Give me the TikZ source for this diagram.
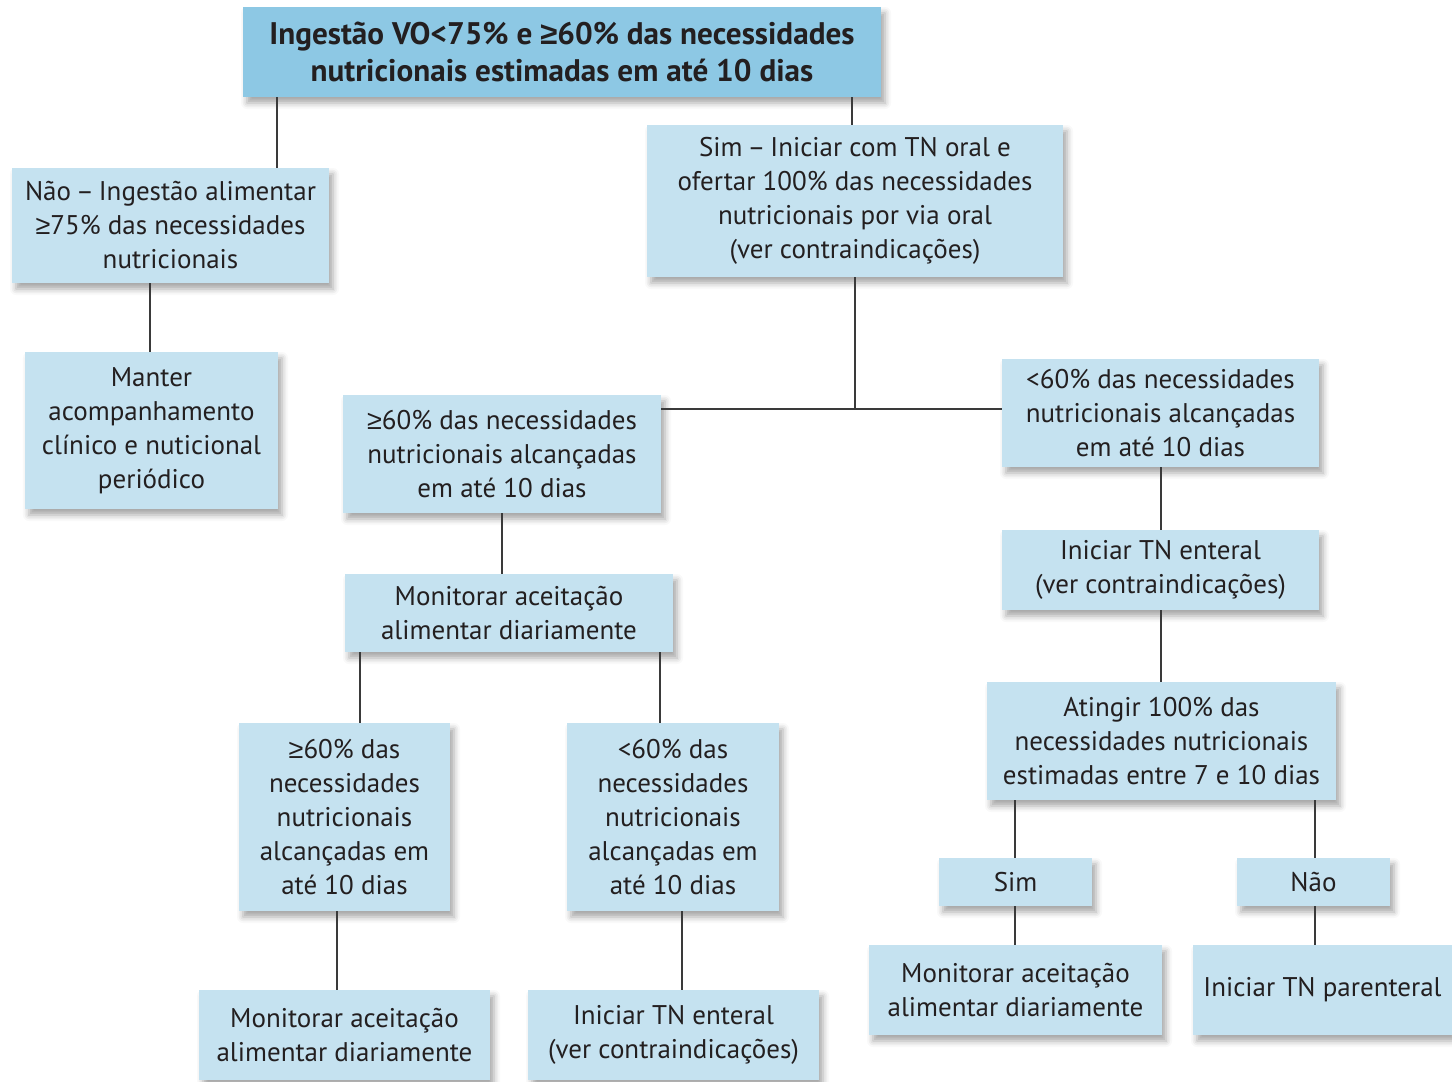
\documentclass[tikz,border=0pt]{standalone}
\usepackage{fontspec}
\setmainfont{PT Sans}
\newfontfamily\gefont{Liberation Sans}
\newcommand\gesym{{\gefont ≥}}
\newcommand\dsh{\hspace{2.5pt}–\hspace{2.5pt}}
\usetikzlibrary{shadows.blur}
\definecolor{boxc}{HTML}{C5E2F0}
\definecolor{topc}{HTML}{8DC8E4}
\definecolor{txt}{HTML}{231F20}
\definecolor{ln}{HTML}{3A3A3A}
\begin{document}
\begin{tikzpicture}[x=0.5pt,y=-0.5pt,
  box/.style={fill=boxc, text=txt, align=center, inner sep=0pt,
    font=\fontsize{13.5}{17}\selectfont,
    blur shadow={shadow xshift=2pt, shadow yshift=-3pt, shadow blur radius=3pt, shadow opacity=35}},
  topbox/.style={box, fill=topc, font=\fontsize{15.6}{18.5}\selectfont\bfseries},
  conn/.style={draw=ln, line width=1pt}]
\useasboundingbox (0,0) rectangle (1452,1082);

\node[topbox, minimum width=319pt, minimum height=45pt] (top) at (562,52)
  {Ingestão VO<75\% e \gesym60\% das necessidades\\nutricionais estimadas em até 10 dias};
\node[box, minimum width=158.5pt, minimum height=57.5pt] (nao) at (170.5,225.5)
  {Não\dsh Ingestão alimentar\\\gesym75\% das necessidades\\nutricionais};
\node[box, minimum width=126.5pt, minimum height=78.5pt] (manter) at (151.5,430.5)
  {Manter\\acompanhamento\\clínico e nuticional\\periódico};
\node[box, minimum width=208pt, minimum height=76pt] (sim) at (855,201)
  {Sim\dsh Iniciar com TN oral e\\ofertar 100\% das necessidades\\nutricionais por via oral\\(ver contraindicações)};
\node[box, minimum width=159pt, minimum height=59pt] (ge60) at (502,454)
  {\gesym60\% das necessidades\\nutricionais alcançadas\\em até 10 dias};
\node[box, minimum width=158.5pt, minimum height=54pt] (lt60) at (1160.5,413)
  {<60\% das necessidades\\nutricionais alcançadas\\em até 10 dias};
\node[box, minimum width=164pt, minimum height=39pt] (mon1) at (509,613)
  {Monitorar aceitação\\alimentar diariamente};
\node[box, minimum width=158.5pt, minimum height=40pt] (ent1) at (1160.5,570)
  {Iniciar TN enteral\\(ver contraindicações)};
\node[box, minimum width=174.5pt, minimum height=59pt] (ating) at (1161.5,741)
  {Atingir 100\% das\\necessidades nutricionais\\estimadas entre 7 e 10 dias};
\node[box, minimum width=105.5pt, minimum height=94pt] (ge60b) at (344.5,817)
  {\gesym60\% das\\necessidades\\nutricionais\\alcançadas em\\até 10 dias};
\node[box, minimum width=106pt, minimum height=94pt] (lt60b) at (673,817)
  {<60\% das\\necessidades\\nutricionais\\alcançadas em\\até 10 dias};
\node[box, minimum width=76.5pt, minimum height=24pt] (simS) at (1015.5,882) {Sim};
\node[box, minimum width=76.5pt, minimum height=24pt] (naoS) at (1313.5,882) {Não};
\node[box, minimum width=145.5pt, minimum height=45pt] (mon2) at (344.5,1035)
  {Monitorar aceitação\\alimentar diariamente};
\node[box, minimum width=145.5pt, minimum height=45pt] (ent2) at (673.5,1035)
  {Iniciar TN enteral\\(ver contraindicações)};
\node[box, minimum width=146.5pt, minimum height=45pt] (mon3) at (1015.5,990)
  {Monitorar aceitação\\alimentar diariamente};
\node[box, minimum width=129.5pt, minimum height=45pt] (par) at (1322.5,990)
  {Iniciar TN parenteral};

\coordinate (c1) at (277,0);
\coordinate (c2) at (852,0);
\coordinate (c3) at (150,0);
\coordinate (j) at (855,409);
\coordinate (c5) at (502,0);
\coordinate (c6) at (360,0);
\coordinate (c7) at (660,0);
\coordinate (c8) at (337,0);
\coordinate (c9) at (682,0);
\coordinate (c10) at (1161,0);
\coordinate (c11) at (1015,0);
\coordinate (c12) at (1315,0);

\draw[conn] (c1 |- top.south) -- (c1 |- nao.north);
\draw[conn] (c2 |- top.south) -- (c2 |- sim.north);
\draw[conn] (c3 |- nao.south) -- (c3 |- manter.north);
\draw[conn] (sim.south -| j) -- (j);
\draw[conn] (ge60.east |- j) -- (lt60.west |- j);
\draw[conn] (c5 |- ge60.south) -- (c5 |- mon1.north);
\draw[conn] (c6 |- mon1.south) -- (c6 |- ge60b.north);
\draw[conn] (c7 |- mon1.south) -- (c7 |- lt60b.north);
\draw[conn] (c8 |- ge60b.south) -- (c8 |- mon2.north);
\draw[conn] (c9 |- lt60b.south) -- (c9 |- ent2.north);
\draw[conn] (c10 |- lt60.south) -- (c10 |- ent1.north);
\draw[conn] (c10 |- ent1.south) -- (c10 |- ating.north);
\draw[conn] (c11 |- ating.south) -- (c11 |- simS.north);
\draw[conn] (c12 |- ating.south) -- (c12 |- naoS.north);
\draw[conn] (c11 |- simS.south) -- (c11 |- mon3.north);
\draw[conn] (c12 |- naoS.south) -- (c12 |- par.north);
\end{tikzpicture}
\end{document}
